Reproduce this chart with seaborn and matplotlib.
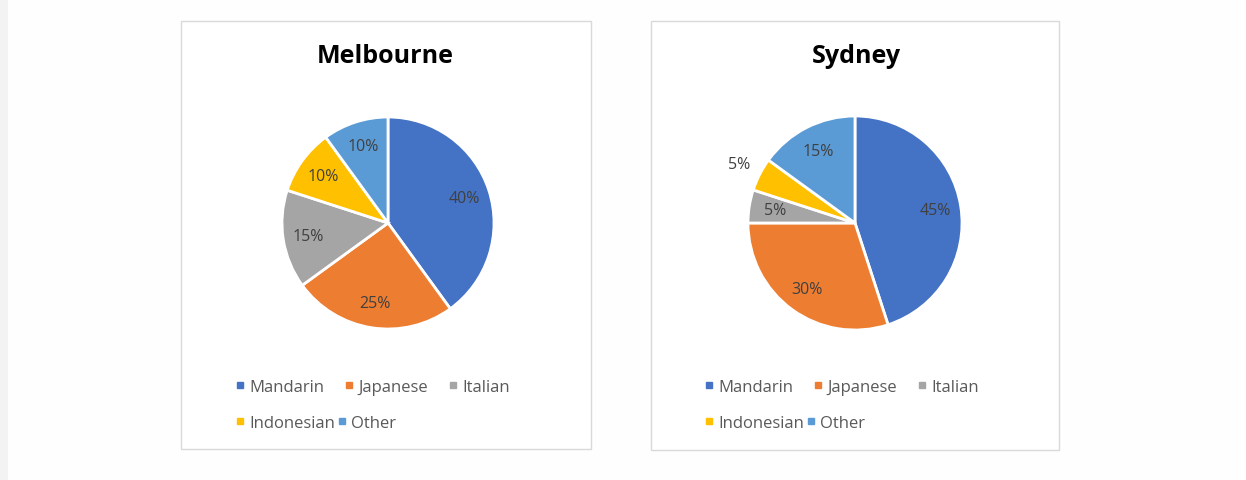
import numpy as np
import matplotlib
matplotlib.use("Agg")
import matplotlib.pyplot as plt
from matplotlib.patches import Rectangle
from matplotlib.lines import Line2D
import seaborn as sns

# ---- data ----
languages = ["Mandarin", "Japanese", "Italian", "Indonesian", "Other"]
cities = ["Melbourne", "Sydney"]
melbourne_share = [40, 25, 15, 10, 10]
sydney_share = [45, 30, 5, 5, 15]

sns.set_theme(style="white")
plt.rcParams["font.family"] = ["Open Sans", "DejaVu Sans"]

colors = ["#4472C4", "#ED7D31", "#A5A5A5", "#FFC000", "#5B9BD5"]
W, H = 1246, 481
fig = plt.figure(figsize=(W / 100, H / 100), dpi=100, facecolor="#fefefe")

def fx(x):
    return x / W

def fy(y):
    return 1 - y / H

LEG_FS = 12
PCT_FS = 11.5
TITLE_FS = 18

# left grey strip
fig.patches.append(Rectangle((0, 0), fx(8), 1, transform=fig.transFigure,
                             facecolor="#f3f3f3", edgecolor="none", zorder=-2))

panels = {
    "Melbourne": dict(box=(181, 22, 591, 450), center=(388, 224), r=106,
                      title_x=385.5, leg_x=240, outside=[]),
    "Sydney": dict(box=(651, 22, 1059, 451), center=(855, 224), r=107,
                   title_x=856, leg_x=709, outside=[3]),
}
data = {"Melbourne": melbourne_share, "Sydney": sydney_share}

for city in cities:
    p = panels[city]
    x0, y0, x1, y1 = p["box"]
    fig.patches.append(Rectangle((fx(x0), fy(y1)), fx(x1) - fx(x0), fy(y0) - fy(y1),
                                 transform=fig.transFigure, facecolor="white",
                                 edgecolor="#d9d9d9", linewidth=1, zorder=-1))
    cx, cy = p["center"]
    r = p["r"]
    ax = fig.add_axes([fx(cx - r), fy(cy + r), 2 * r / W, 2 * r / H])
    ax.set_zorder(3)
    ax.patch.set_visible(False)
    ax.set_axis_off()
    wedges, texts, autotexts = ax.pie(
        data[city], colors=colors, startangle=90, counterclock=False,
        autopct=lambda v: f"{v:.0f}%", pctdistance=0.76,
        wedgeprops=dict(edgecolor="white", linewidth=2),
        textprops=dict(color="#404040", fontsize=PCT_FS))
    for i in p["outside"]:
        w = wedges[i]
        mid = np.deg2rad((w.theta1 + w.theta2) / 2)
        autotexts[i].set_position((1.22 * np.cos(mid), 1.22 * np.sin(mid)))
    ax.set_xlim(-1, 1)
    ax.set_ylim(-1, 1)

    fig.text(fx(p["title_x"]), fy(57), city, ha="center", va="center",
             fontsize=TITLE_FS, fontweight="bold", color="#000000")

    handles = [Line2D([], [], marker="s", linestyle="none", markersize=5,
                      color=c) for c in colors]
    rows = [(slice(0, 3), 388, 1.3), (slice(3, 5), 424, 0.2)]
    fs = LEG_FS * 100 / 72
    for sl, ry, cs in rows:
        fig.legend(handles[sl], languages[sl], ncol=len(languages[sl]),
                   loc="center left",
                   bbox_to_anchor=(fx(p["leg_x"] - 0.4 * fs / 2), fy(ry)),
                   frameon=False, borderpad=0, borderaxespad=0,
                   handlelength=0.4, handletextpad=0.35, columnspacing=cs,
                   fontsize=LEG_FS, labelcolor="#595959")

fig.savefig("out.png", dpi=100, facecolor=fig.get_facecolor())
